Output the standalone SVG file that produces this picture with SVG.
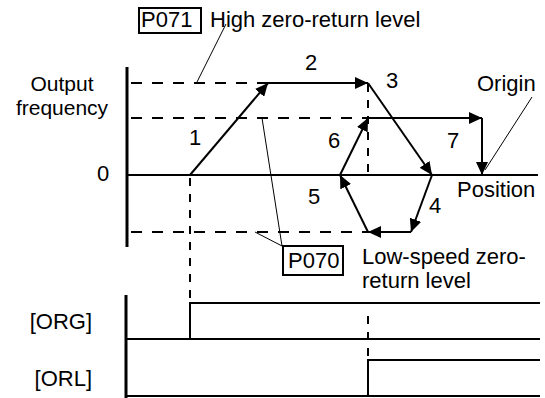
<svg xmlns="http://www.w3.org/2000/svg" width="545" height="398" viewBox="0 0 545 398">
<style>
text{font-family:"Liberation Sans",Arial,sans-serif;font-size:22px;fill:#000}
.ax{stroke:#000;stroke-width:3;fill:none}
.ln{stroke:#000;stroke-width:2;fill:none}
.ar{stroke:#000;stroke-width:2;fill:none;marker-end:url(#ah)}
.ds{stroke:#000;stroke-width:2;fill:none;stroke-dasharray:11 10}
.dv{stroke:#000;stroke-width:2;fill:none;stroke-dasharray:8 8}
.ld{stroke:#000;stroke-width:1;fill:none}
.bx{stroke:#000;stroke-width:2;fill:#fff}
</style>
<defs>
<marker id="ah" markerUnits="userSpaceOnUse" markerWidth="14" markerHeight="12" refX="13" refY="6" orient="auto">
<path d="M0,0 L13,6 L0,12 Z" fill="#000"/>
</marker>
</defs>
<rect width="545" height="398" fill="#fff"/>
<g id="axes">
<line class="ax" x1="127" y1="67" x2="127" y2="247"/>
<line class="ln" x1="127" y1="175" x2="538" y2="175"/>
<line class="ax" x1="126" y1="295" x2="126" y2="398"/>
</g>
<g id="levels">
<line class="ds" x1="131" y1="83" x2="268" y2="83"/>
<line class="ds" x1="131" y1="118" x2="368" y2="118"/>
<line class="ds" x1="131" y1="232" x2="368" y2="232"/>
<line class="dv" x1="190" y1="178" x2="190" y2="300"/>
<line class="dv" x1="368" y1="84" x2="368" y2="175"/>
<line class="dv" x1="368" y1="316" x2="368" y2="356"/>
</g>
<g id="connectors">
<line class="ar" x1="190" y1="175" x2="268" y2="83"/>
<line class="ar" x1="268" y1="83" x2="368" y2="83"/>
<line class="ar" x1="368" y1="83" x2="432" y2="175"/>
<line class="ar" x1="432" y1="175" x2="411" y2="232"/>
<line class="ar" x1="411" y1="232" x2="368" y2="232"/>
<line class="ar" x1="368" y1="232" x2="340" y2="175"/>
<line class="ar" x1="340" y1="175" x2="368" y2="118"/>
<line class="ar" x1="368" y1="118" x2="482" y2="118"/>
<line class="ar" x1="482" y1="118" x2="482" y2="175"/>
<line class="ld" x1="226" y1="24" x2="197" y2="82"/>
<line class="ld" x1="282" y1="246" x2="255" y2="232"/>
<line class="ld" x1="282" y1="246" x2="262" y2="118"/>
<line class="ld" x1="532" y1="97" x2="485" y2="170"/>
</g>
<g id="signals">
<polyline class="ln" points="126,339 540,339"/>
<polyline class="ln" points="190,339 190,303 540,303"/>
<polyline class="ln" points="126,396 540,396"/>
<polyline class="ln" points="368,396 368,360 540,360"/>
</g>
<g id="p071">
<rect class="bx" x="139" y="8" width="62" height="25"/>
<text x="141" y="27">P071</text>
</g>
<text x="210" y="27">High zero-return level</text>
<g id="p070">
<rect class="bx" x="283" y="246" width="60" height="29"/>
<text x="288" y="268">P070</text>
</g>
<text x="362" y="264">Low-speed zero-</text>
<text x="362" y="288">return level</text>
<text x="62" y="91" text-anchor="middle" style="font-size:21px">Output</text>
<text x="62" y="115" text-anchor="middle" style="font-size:21px">frequency</text>
<text x="97" y="181">0</text>
<text x="189" y="145">1</text>
<text x="305" y="70">2</text>
<text x="386" y="88">3</text>
<text x="429" y="213">4</text>
<text x="308" y="204">5</text>
<text x="328" y="148">6</text>
<text x="447" y="148">7</text>
<text x="477" y="91">Origin</text>
<text x="457" y="197">Position</text>
<text x="92" y="329" text-anchor="end">[ORG]</text>
<text x="92" y="386" text-anchor="end">[ORL]</text>
</svg>
